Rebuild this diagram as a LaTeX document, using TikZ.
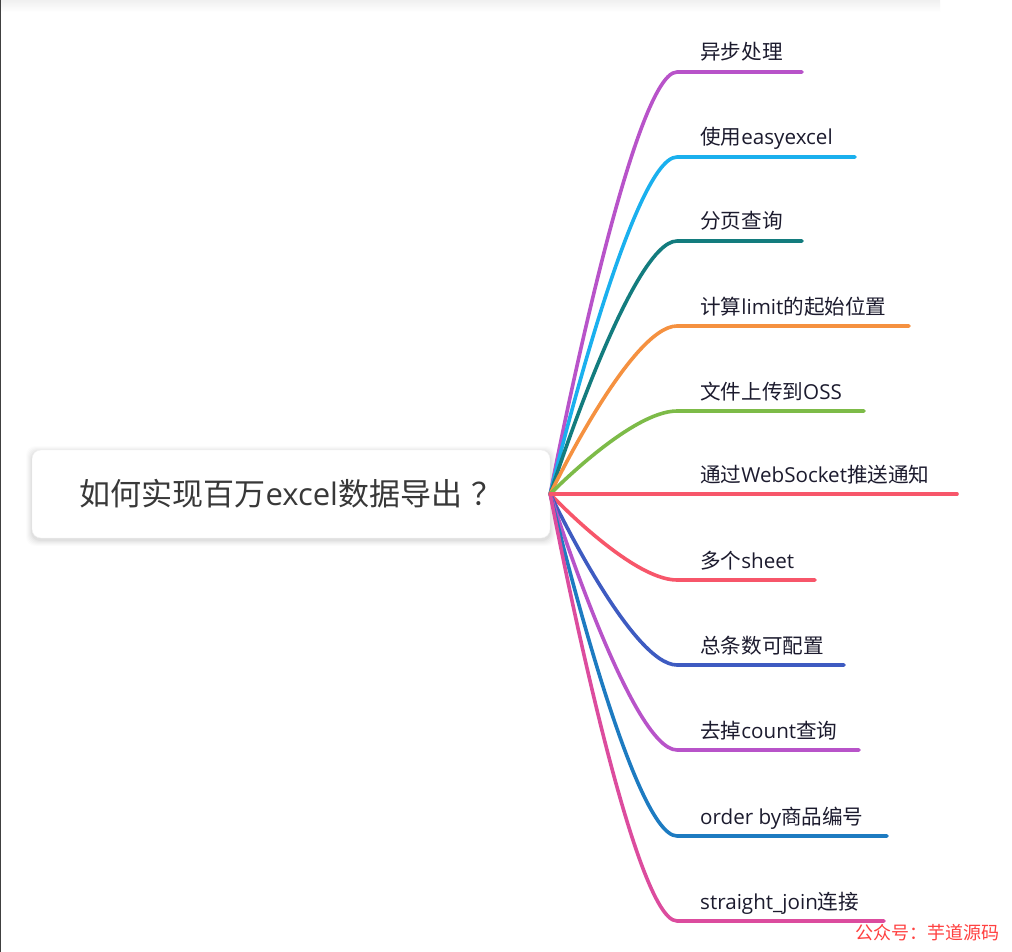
\documentclass[tikz,border=0pt]{standalone}
\usepackage{fontspec}
\newfontfamily\cjk{Noto Sans CJK SC}
\newfontfamily\latinpart{Open Sans}
\newcommand{\lat}[1]{{\latinpart #1}}
\definecolor{cPurple}{HTML}{B853C9}
\definecolor{cCyan}{HTML}{1AB0EE}
\definecolor{cTeal}{HTML}{137C7E}
\definecolor{cOrange}{HTML}{F59140}
\definecolor{cGreen}{HTML}{7DBB48}
\definecolor{cRed}{HTML}{F7566A}
\definecolor{cBlue}{HTML}{3E5BC1}
\definecolor{cBlueB}{HTML}{1D7BC1}
\definecolor{cPink}{HTML}{DC4C9E}
\definecolor{labelink}{HTML}{1C1B2E}
\definecolor{rootink}{HTML}{383838}
\definecolor{markred}{HTML}{FF4040}
\begin{document}
\begin{tikzpicture}[x=1pt,y=-1pt,
  branch/.style={line width=3.6pt, line cap=round},
  leaf/.style={anchor=base west, inner sep=0pt, text=labelink,
    font=\cjk\fontsize{20.6}{24}\selectfont},
  rootbox/.style={draw=black!5, fill=white, rounded corners=9pt,
    minimum width=518pt, minimum height=88pt, inner sep=0pt, text=rootink,
    font=\cjk\fontsize{31}{36}\selectfont}]
\useasboundingbox (0,0) rectangle (1012,952);
\fill[white] (0,0) rectangle (1012,952);
% faint header strip and left frame line
\shade[top color=black!6, bottom color=white] (0,0) rectangle (940,12);
\draw[black!75, line width=1pt] (0.5,0) -- (0.5,952);
% soft shadow under the central topic
\foreach \s/\o in {6/0.012,5/0.015,4/0.018,3/0.02,2/0.025,1/0.03}{
  \fill[black, opacity=\o, rounded corners=9pt]
    (32-\s,450-\s+2) rectangle (550+\s,538+\s+2);
}
\node[rootbox] (root) at (291,494) {如何实现百万\lat{excel}数据导出\hspace{0.3em}？};
% branches: y of the underline / end x / colour / label
\foreach \y/\xe/\col/\txt [count=\i] in {
   72/802/cPurple/异步处理,
  157/855/cCyan/使用\lat{easyexcel},
  241/802/cTeal/分页查询,
  326/909/cOrange/计算\lat{limit}的起始位置,
  411/864/cGreen/文件上传到\lat{OSS},
  580/815/cRed/多个\lat{sheet},
  665/844/cBlue/总条数可配置,
  750/859/cPurple/去掉\lat{count}查询,
  836/887/cBlueB/\lat{order by}商品编号,
  921/884/cPink/\lat{straight\_join}连接}{
  \coordinate (b\i) at (677,\y);
  \coordinate (e\i) at (\xe,\y);
  \draw[branch,\col] (root.east) .. controls (root.east) and (631,\y) .. (b\i) -- (e\i);
  \node[leaf] (t\i) at (700,\y-12) {\txt};
}
% the straight middle branch
\coordinate (eW) at (957,494);
\draw[branch,cRed] (root.east) -- (eW);
\node[leaf] (tW) at (700,482) {通过\lat{WebSocket}推送通知};
% signature
\node[anchor=west, inner sep=0pt, text=markred,
  font=\cjk\fontsize{18}{22}\selectfont] (mark) at (855,933) {公众号：芋道源码};
\end{tikzpicture}
\end{document}
